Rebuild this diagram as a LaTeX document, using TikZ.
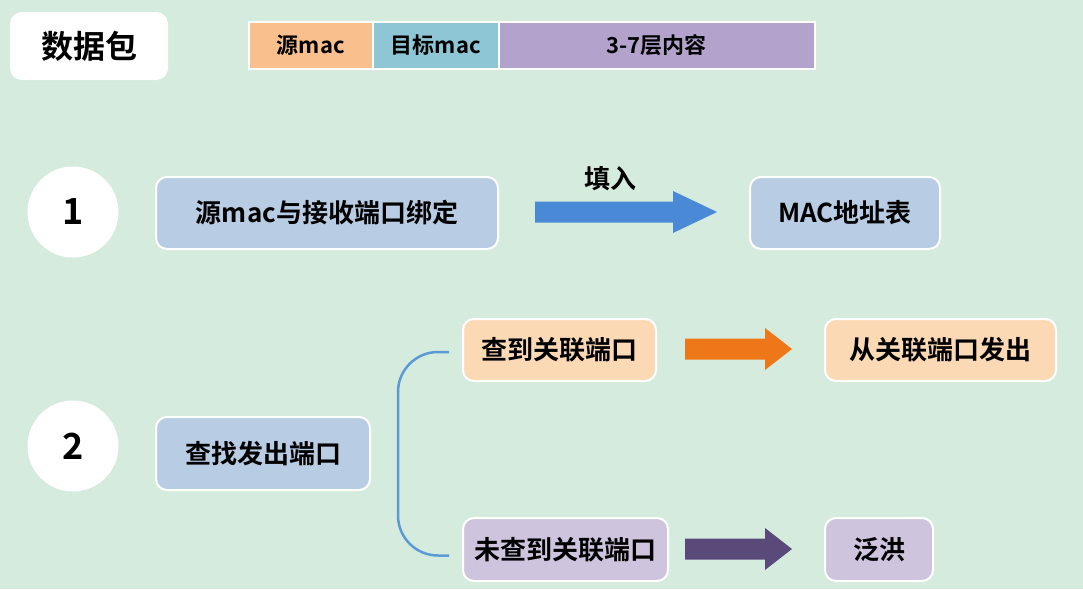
\documentclass[tikz,border=0pt]{standalone}
\usepackage{fontspec}
\setmainfont{Noto Sans CJK SC}[BoldFont=* Bold]
\newfontfamily\cjkbold{Noto Sans CJK SC Bold}
\usetikzlibrary{calc}

\definecolor{bgcol}{HTML}{D5EBDD}
\definecolor{srccol}{HTML}{F9C08E}
\definecolor{dstcol}{HTML}{8EC6D6}
\definecolor{l37col}{HTML}{B3A2CB}
\definecolor{stepcol}{HTML}{B8CCE4}
\definecolor{foundcol}{HTML}{FCD9B5}
\definecolor{missedcol}{HTML}{CFC4DD}
\definecolor{arrowblue}{HTML}{4A89D6}
\definecolor{arroworange}{HTML}{EE7718}
\definecolor{arrowpurple}{HTML}{5A4A7A}
\definecolor{bracketblue}{HTML}{5B9BD5}

\tikzset{
  txt/.style={font=\cjkbold\fontsize{26}{26}\selectfont, text=black},
  card/.style={txt, draw=white, line width=2pt, rounded corners=11pt, anchor=north west, inner sep=0pt},
  cell/.style={draw=white, line width=1.5pt, anchor=north west, inner sep=0pt,
               font=\cjkbold\fontsize{22}{22}\selectfont, minimum height=47pt},
  badge/.style={circle, fill=white, minimum size=91pt, inner sep=0pt,
                font=\cjkbold\fontsize{36}{36}\selectfont},
  trunk/.style={line width=2.5pt, bracketblue},
}

% block arrow: x-start, x-head, x-tip, y-centre, colour
\newcommand\blockarrow[5]{%
  \fill[#5] (#1,#4-10.5) -- (#2,#4-10.5) -- (#2,#4-21) -- (#3,#4)
    -- (#2,#4+21) -- (#2,#4+10.5) -- (#1,#4+10.5) -- cycle;}

\begin{document}
\begin{tikzpicture}[x=1pt,y=-1pt]
  \fill[bgcol] (0,0) rectangle (1083,589);
  \useasboundingbox (0,0) rectangle (1083,589);

  % packet header
  \node[card, fill=white, minimum width=156pt, minimum height=66pt,
        font=\cjkbold\fontsize{32}{32}\selectfont] (pkt) at (10,12) {数据包};
  \node[cell, fill=srccol, minimum width=124pt] (src) at (248,21) {源mac};
  \node[cell, fill=dstcol, minimum width=126pt] (dst) at (372,21) {目标mac};
  \node[cell, fill=l37col, minimum width=316pt] (l37) at (498,21) {3-7层内容};

  % step 1
  \node[badge] (one) at (73,212) {1};
  \node[card, fill=stepcol, minimum width=342pt, minimum height=72pt] (bind) at (155,176) {源mac与接收端口绑定};
  \node[card, fill=stepcol, minimum width=190pt, minimum height=72pt] (table) at (749,176) {MAC地址表};
  \blockarrow{535}{673}{717}{212}{arrowblue}
  \node[txt] (fill) at (610,179) {填入};

  % step 2
  \node[badge] (two) at (73,446) {2};
  \node[card, fill=stepcol, minimum width=214pt, minimum height=73pt] (lookup) at (155,416) {查找发出端口};
  \node[card, fill=foundcol, minimum width=193pt, minimum height=62pt] (found) at (462,318) {查到关联端口};
  \node[card, fill=foundcol, minimum width=231pt, minimum height=62pt] (fwd) at (824,318) {从关联端口发出};
  \node[card, fill=missedcol, minimum width=205pt, minimum height=63pt] (missed) at (462,517) {未查到关联端口};
  \node[card, fill=missedcol, minimum width=108pt, minimum height=63pt] (flood) at (824,517) {泛洪};

  \blockarrow{685}{765}{792}{349}{arroworange}
  \blockarrow{685}{765}{792}{549}{arrowpurple}

  % branch bracket
  \coordinate (bt) at ($(found.west)+(-13,2)$);
  \coordinate (bb) at ($(missed.west)+(-13,6)$);
  \draw[trunk, rounded corners=40pt] (bt) -- ++(-51,0) |- (bb);
\end{tikzpicture}
\end{document}
